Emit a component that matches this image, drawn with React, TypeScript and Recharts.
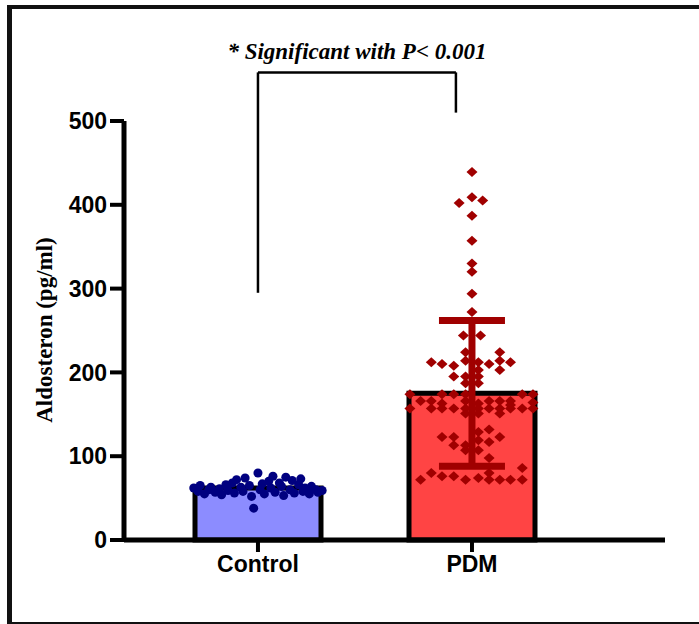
import {
  ComposedChart,
  Bar,
  Cell,
  Scatter,
  XAxis,
  YAxis,
  ErrorBar,
  ReferenceLine,
} from 'recharts'

const CATEGORIES = ['Control', 'PDM']
const MEANS = [62, 175]
const PDM_SD = 87
const Y_TICKS = [0, 100, 200, 300, 400, 500]
const BAR_FILLS = ['#8c8cff', '#ff4444']
const POINT_COLORS = ['#000080', '#a00000']

// [jitter from category centre, value]
const CONTROL_POINTS: [number, number][] = [
  [-0.3, 62], [-0.28, 58], [-0.27, 65], [-0.25, 55], [-0.23, 60], [-0.22, 63],
  [-0.2, 57], [-0.18, 61], [-0.17, 54], [-0.15, 66], [-0.14, 59], [-0.12, 68],
  [-0.11, 56], [-0.1, 72], [-0.08, 63], [-0.07, 58], [-0.06, 74], [-0.04, 65],
  [-0.03, 52], [-0.02, 38], [0.0, 80], [0.01, 60], [0.02, 67], [0.03, 55],
  [0.05, 70], [0.06, 62], [0.07, 76], [0.08, 57], [0.1, 68], [0.11, 64],
  [0.12, 53], [0.13, 75], [0.15, 60], [0.16, 71], [0.17, 56], [0.19, 66],
  [0.2, 73], [0.21, 58], [0.22, 62], [0.24, 55], [0.25, 64], [0.27, 60],
  [0.28, 57], [0.3, 59],
]

const PDM_POINTS: [number, number][] = [
  [0.0, 439], [0.0, 409], [-0.06, 402], [0.05, 405], [0.0, 387], [0.0, 357],
  [0.0, 330], [0.0, 320], [0.0, 294], [0.0, 272], [-0.04, 244], [0.04, 244],
  [-0.03, 224], [0.13, 224],
  [-0.19, 212], [-0.14, 210], [-0.085, 208], [-0.03, 214], [0.03, 212], [0.08, 210], [0.13, 214], [0.18, 212],
  [0.03, 203], [0.13, 203],
  [-0.085, 195], [-0.03, 195], [0.03, 195],
  [-0.03, 187], [0.03, 187],
  [-0.29, 174], [-0.14, 174], [-0.085, 174], [-0.03, 174], [0.235, 174], [0.285, 174],
  [-0.24, 166], [-0.19, 166], [-0.03, 166], [0.08, 166], [0.13, 166], [0.18, 166], [0.285, 164],
  [-0.14, 163], [0.03, 163], [0.18, 161],
  [-0.29, 157], [-0.19, 157], [-0.14, 157], [-0.085, 157], [-0.03, 157], [0.03, 157],
  [0.08, 157], [0.13, 157], [0.18, 157], [0.235, 157], [0.285, 157],
  [-0.03, 151], [0.03, 151], [0.13, 151],
  [0.08, 132], [0.03, 129], [-0.14, 123], [-0.085, 123], [0.13, 123], [0.03, 119],
  [0.08, 117], [-0.085, 113], [-0.03, 113], [-0.03, 107], [0.03, 107], [0.08, 98],
  [0.235, 86], [-0.19, 80], [0.08, 80], [-0.14, 76], [-0.085, 76], [0.03, 74],
  [-0.24, 72], [-0.03, 72], [0.08, 72], [0.13, 72], [0.18, 72], [0.235, 72],
]

// significance bracket: left leg from 295, top at 558, right leg down to 510
const BRACKET_X = [0, 0.925]
const BRACKET_Y = [295, 558, 510]
const SIG_TEXT = '* Significant with P< 0.001'

const barData = CATEGORIES.map((name, i) => ({ x: i, name, mean: MEANS[i] }))
const controlData = CONTROL_POINTS.map(([dx, v]) => ({ x: 0 + dx, y: v }))
const pdmData = PDM_POINTS.map(([dx, v]) => ({ x: 1 + dx, y: v }))
const pdmErrData = [{ x: 1, y: MEANS[1], err: PDM_SD }]

const SANS = '"Liberation Sans", Arial, sans-serif'
const SERIF = '"Liberation Serif", "Times New Roman", serif'

const Diamond = (props: any) => {
  const { cx, cy } = props
  if (cx == null || cy == null) return null
  return (
    <path
      d={`M${cx},${cy - 5}L${cx + 5.5},${cy}L${cx},${cy + 5}L${cx - 5.5},${cy}Z`}
      fill={POINT_COLORS[1]}
    />
  )
}

export default function App() {
  return (
    <div style={{ position: 'fixed', left: 0, top: 0, width: 699, height: 624, background: '#fff' }}>
      <div
        style={{
          position: 'absolute',
          left: 7,
          top: 5,
          width: 692,
          height: 619,
          boxSizing: 'border-box',
          borderLeft: '5px solid #111',
          borderTop: '4px solid #111',
          borderBottom: '2px solid #111',
        }}
      />
      <div style={{ position: 'absolute', left: 0, top: 0 }}>
        <ComposedChart
          width={699}
          height={624}
          data={barData}
          margin={{ top: 121, right: 34, bottom: 54, left: 64 }}
        >
          <XAxis
            xAxisId="cat"
            type="category"
            dataKey="name"
            padding={{ left: 27, right: 86 }}
            height={0}
            hide
          />
          <XAxis
            xAxisId="num"
            type="number"
            dataKey="x"
            domain={[-0.626, 1.902]}
            allowDataOverflow
            ticks={[0, 1]}
            tickFormatter={(v) => CATEGORIES[v] ?? ''}
            height={30}
            tickSize={12}
            tickMargin={4}
            axisLine={{ stroke: '#000', strokeWidth: 5 }}
            tickLine={{ stroke: '#000', strokeWidth: 4 }}
            tick={{ fill: '#000', fontSize: 23, fontWeight: 'bold', fontFamily: SANS }}
          />
          <YAxis
            type="number"
            domain={[0, 500]}
            ticks={Y_TICKS}
            width={60}
            tickSize={14}
            tickMargin={3}
            axisLine={{ stroke: '#000', strokeWidth: 5 }}
            tickLine={{ stroke: '#000', strokeWidth: 4 }}
            tick={{ fill: '#000', fontSize: 23, fontWeight: 'bold', fontFamily: SANS }}
            label={{
              content: () => (
                <text
                  x={44}
                  y={330}
                  transform="rotate(-90 44 330)"
                  textAnchor="middle"
                  dominantBaseline="central"
                  fill="#000"
                  fontSize={23}
                  fontWeight="bold"
                  fontFamily={SERIF}
                >
                  Aldosteron (pg/ml)
                </text>
              ),
            }}
          />
          <Bar
            xAxisId="cat"
            dataKey="mean"
            barSize={126}
            stroke="#000"
            strokeWidth={5}
            isAnimationActive={false}
          >
            {CATEGORIES.map((c, i) => (
              <Cell key={c} fill={BAR_FILLS[i]} />
            ))}
          </Bar>
          <Scatter
            xAxisId="num"
            data={controlData}
            dataKey="y"
            shape="circle"
            fill={POINT_COLORS[0]}
            size={90}
            isAnimationActive={false}
          />
          <Scatter xAxisId="num" data={pdmData} dataKey="y" shape={Diamond} isAnimationActive={false} />
          <Scatter xAxisId="num" data={pdmErrData} dataKey="y" shape={() => null} isAnimationActive={false}>
            <ErrorBar dataKey="err" direction="y" width={33} stroke={POINT_COLORS[1]} strokeWidth={7} />
          </Scatter>
          <ReferenceLine
            xAxisId="num"
            segment={[{ x: BRACKET_X[0], y: BRACKET_Y[0] }, { x: BRACKET_X[0], y: BRACKET_Y[1] }]}
            stroke="#000"
            strokeWidth={2.5}
            ifOverflow="visible"
          />
          <ReferenceLine
            xAxisId="num"
            segment={[{ x: BRACKET_X[0], y: BRACKET_Y[1] }, { x: BRACKET_X[1], y: BRACKET_Y[1] }]}
            stroke="#000"
            strokeWidth={2.5}
            ifOverflow="visible"
            label={{
              value: SIG_TEXT,
              position: 'top',
              offset: 13,
              fill: '#000',
              fontSize: 23,
              fontWeight: 'bold',
              fontStyle: 'italic',
              fontFamily: SERIF,
            }}
          />
          <ReferenceLine
            xAxisId="num"
            segment={[{ x: BRACKET_X[1], y: BRACKET_Y[1] }, { x: BRACKET_X[1], y: BRACKET_Y[2] }]}
            stroke="#000"
            strokeWidth={2.5}
            ifOverflow="visible"
          />
        </ComposedChart>
      </div>
    </div>
  )
}
